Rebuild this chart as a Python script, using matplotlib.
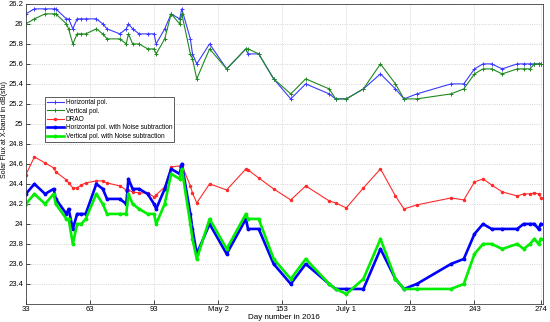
import matplotlib
matplotlib.use("Agg")
import matplotlib.pyplot as plt

plt.rcParams['font.family'] = ['Liberation Sans', 'DejaVu Sans']

days = [33, 37, 42, 46, 47, 52, 53, 55, 57, 59, 61, 66, 69, 71, 77, 80, 81, 83, 86, 90,
        93, 94, 98, 101, 105, 106, 110, 111, 113, 119, 127, 136, 137, 142, 149, 157, 164,
        175, 178, 183, 191, 199, 206, 210, 216, 232, 238, 243, 247, 251, 256, 263, 266,
        269, 271, 273, 274]

h_pol = [26.1, 26.15, 26.15, 26.15, 26.15, 26.05, 26.05, 25.95, 26.05, 26.05, 26.05, 26.05,
         26.0, 25.95, 25.9, 25.95, 26.0, 25.95, 25.9, 25.9, 25.9, 25.8, 25.95, 26.1, 26.05,
         26.15, 25.85, 25.7, 25.6, 25.8, 25.55, 25.75, 25.7, 25.7, 25.45, 25.25, 25.4, 25.3,
         25.25, 25.25, 25.35, 25.5, 25.35, 25.25, 25.3, 25.4, 25.4, 25.55, 25.6, 25.6, 25.55,
         25.6, 25.6, 25.6, 25.6, 25.6, 25.6]

v_pol = [26.0, 26.05, 26.1, 26.1, 26.1, 26.0, 25.95, 25.8, 25.9, 25.9, 25.9, 25.95, 25.9,
         25.85, 25.85, 25.8, 25.9, 25.8, 25.8, 25.75, 25.75, 25.7, 25.85, 26.1, 26.0, 26.1,
         25.7, 25.65, 25.45, 25.75, 25.55, 25.75, 25.75, 25.7, 25.45, 25.3, 25.45, 25.35,
         25.25, 25.25, 25.35, 25.6, 25.4, 25.25, 25.25, 25.3, 25.35, 25.5, 25.55, 25.55, 25.5,
         25.55, 25.55, 25.55, 25.6, 25.6, 25.6]

drao = [24.49, 24.67, 24.61, 24.56, 24.52, 24.44, 24.41, 24.36, 24.36, 24.39, 24.41, 24.43,
        24.43, 24.41, 24.38, 24.34, 24.34, 24.32, 24.31, 24.31, 24.27, 24.29, 24.37, 24.57,
        24.58, 24.59, 24.38, 24.31, 24.21, 24.4, 24.34, 24.55, 24.54, 24.46, 24.35, 24.24,
        24.38, 24.23, 24.21, 24.16, 24.36, 24.55, 24.28, 24.15, 24.19, 24.26, 24.24, 24.42,
        24.45, 24.39, 24.32, 24.28, 24.3, 24.3, 24.31, 24.3, 24.26]

h_noise = [24.3, 24.4, 24.3, 24.35, 24.25, 24.1, 24.15, 23.95, 24.1, 24.1, 24.1, 24.4, 24.35,
           24.25, 24.25, 24.2, 24.45, 24.35, 24.35, 24.3, 24.2, 24.15, 24.35, 24.55, 24.5,
           24.6, 24.1, 23.95, 23.7, 24.0, 23.7, 24.05, 23.95, 23.95, 23.6, 23.4, 23.6, 23.4,
           23.35, 23.35, 23.35, 23.75, 23.45, 23.35, 23.4, 23.6, 23.65, 23.9, 24.0, 23.95,
           23.95, 23.95, 24.0, 24.0, 24.0, 23.95, 24.0]

v_noise = [24.2, 24.3, 24.2, 24.3, 24.2, 24.05, 24.05, 23.8, 24.0, 24.0, 24.05, 24.3, 24.2,
           24.1, 24.1, 24.1, 24.3, 24.2, 24.15, 24.1, 24.1, 24.0, 24.2, 24.5, 24.45, 24.55,
           24.0, 23.85, 23.65, 24.05, 23.75, 24.1, 24.05, 24.05, 23.65, 23.45, 23.65, 23.4,
           23.35, 23.3, 23.45, 23.85, 23.45, 23.35, 23.35, 23.35, 23.4, 23.7, 23.8, 23.8,
           23.75, 23.8, 23.75, 23.8, 23.85, 23.8, 23.85]

xticks = [33, 63, 93, 123, 153, 183, 213, 243, 274]
xticklabels = ['33', '63', '93', 'May 2', '153', 'July 1', '213', '243', '274']
yticks = [23.4, 23.6, 23.8, 24.0, 24.2, 24.4, 24.6, 24.8, 25.0, 25.2, 25.4, 25.6, 25.8, 26.0, 26.2]

fig = plt.figure(figsize=(5.5, 3.22), dpi=100)
ax = fig.add_axes([0.047, 0.056, 0.94, 0.932])

ax.plot(days, h_pol, color='#3a3aff', lw=0.8, marker='+', ms=3, mew=0.7, label='Horizontal pol.')
ax.plot(days, v_pol, color='#1f8a1f', lw=0.8, marker='+', ms=3, mew=0.7, label='Vertical pol.')
ax.plot(days, drao, color='#ff2a2a', lw=0.8, marker='.', ms=3, label='DRAO')
ax.plot(days, h_noise, color='#0000ff', lw=1.9, marker='.', ms=3.5, label='Horizontal pol. with Noise subtraction')
ax.plot(days, v_noise, color='#00ee00', lw=1.9, marker='.', ms=3.5, label='Vertical pol. with Noise subtraction')

ax.set_xlim(33, 275)
ax.set_ylim(23.2, 26.2)
ax.set_xticks(xticks)
ax.set_xticklabels(xticklabels)
ax.set_yticks(yticks)
ax.set_yticklabels([('%g' % v) for v in yticks])
ax.tick_params(direction='in', labelsize=5.5, length=3, width=0.5, pad=2)
ax.tick_params(axis='x', pad=1.5)
ax.grid(True, color='#c8c8c8', ls=':', lw=0.6)
for s in ax.spines.values():
    s.set_linewidth(0.6)
    s.set_color('#404040')

ax.set_xlabel('Day number in 2016', fontsize=5.8)
ax.xaxis.set_label_coords(0.5, -0.035)
ax.set_ylabel('Solar Flux at X-band in dB(sfu)', fontsize=5)
ax.yaxis.set_label_coords(-0.034, 0.58)

leg = ax.legend(loc='upper left', bbox_to_anchor=(0.037, 0.69), fontsize=4.7,
                frameon=True, fancybox=False, edgecolor='#404040', framealpha=1,
                borderpad=0.35, labelspacing=0.22, handlelength=2.5, handletextpad=0.3,
                borderaxespad=0)
leg.get_frame().set_linewidth(0.6)

fig.savefig('out.png', dpi=100)
